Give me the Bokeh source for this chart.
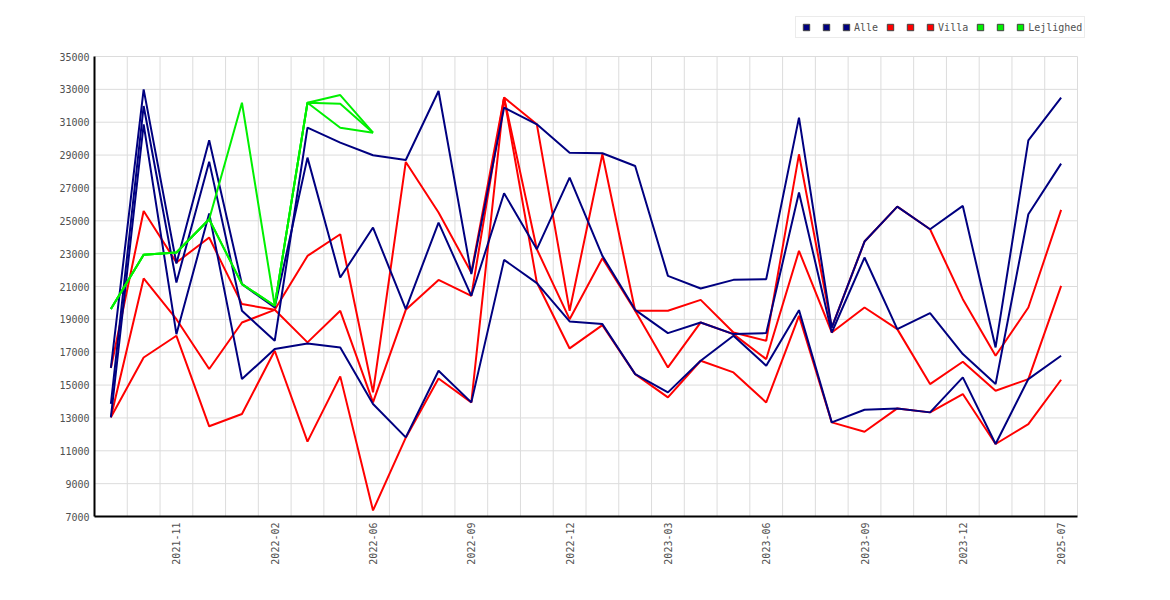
import math
from bokeh.plotting import figure
from bokeh.models import FixedTicker, Legend, LegendItem
from bokeh.embed import file_html
from bokeh.resources import INLINE

# ---- data -------------------------------------------------------------
months = ["2021-09", "2021-10", "2021-11", "2021-12", "2022-01", "2022-02",
          "2022-03", "2022-04", "2022-06", "2022-07", "2022-08", "2022-09",
          "2022-10", "2022-11", "2022-12", "2023-01", "2023-02", "2023-03",
          "2023-04", "2023-05", "2023-06", "2023-07", "2023-08", "2023-09",
          "2023-10", "2023-11", "2023-12", "2024-01", "2025-06", "2025-07"]
tick_every = 3
first_tick = 2

alle_1 = [16040, 33000, 22400, 29900, 21146, 19720, 28845, 21548, 24588, 19622,
          24892, 20433, 26676, 23270, 27627, 22865, 19581, 18162, 18811, 18102,
          18162, 26716, 18200, 22763, 18406, 19378, 16885, 15061, 25399, 28480]
alle_2 = [13851, 31986, 21243, 28600, 19520, 17696, 30669, 29757, 28987, 28703,
          32899, 21750, 31885, 30872, 29148, 29108, 28338, 21648, 20878, 21405,
          21446, 31277, 18500, 23736, 25865, 24487, 25906, 17290, 29899, 32493]
alle_3 = [13036, 30872, 18100, 25440, 15365, 17190, 17534, 17290, 13846, 11819,
          15872, 13946, 22622, 21203, 18872, 18710, 15669, 14554, 16480, 18000,
          16176, 19561, 12730, 13500, 13581, 13338, 15466, 11412, 15365, 16784]

villa_1 = [16040, 25600, 22460, 23980, 19930, 19580, 22860, 24180, 14560, 28580,
           25500, 21850, 32500, 30870, 19520, 29047, 19520, 19520, 20187, 18203,
           17697, 29047, 18500, 23736, 25865, 24487, 20230, 16784, 19723, 25662]
villa_2 = [13036, 21490, 19010, 15980, 18810, 19580, 17600, 19520, 13950, 19580,
           21400, 20430, 32500, 23270, 19010, 22723, 19520, 16075, 18811, 18100,
           16582, 23169, 18203, 19723, 18406, 15061, 16419, 14655, 15365, 21040]
villa_3 = [13036, 16680, 18000, 12490, 13240, 17090, 11560, 15530, 7370, 11800,
           15400, 13950, 32500, 21240, 17230, 18649, 15669, 14250, 16480, 15770,
           13946, 19216, 12730, 12162, 13581, 13338, 14453, 11412, 12628, 15324]

lejl_1 = [19626, 22930, 23067, 25097, 32186, 19827, 32186, 32653, 30364]
lejl_2 = [19626, 22930, 23067, 25097, 21146, 19827, 32186, 32130, 30364]
lejl_3 = [19626, 22930, 23067, 25097, 21146, 19827, 32186, 30667, 30364]

y_ticks = list(range(7000, 35001, 2000))

NAVY = "#000080"
RED = "#ff0000"
GREEN = "#00f000"
FONT = "DejaVu Sans Mono"
TXT = "#505050"
GRID = "#dcdcdc"

# ---- layout numbers ---------------------------------------------------
W, H = 1158, 588
LEFT, TOP, BOTTOM = 94, 16, 72
PLOT_RIGHT_PX = 1077        # where the category axis ends
EXTRA_RIGHT = 12            # room for the legend beyond the axis end
RIGHT = W - PLOT_RIGHT_PX - EXTRA_RIGHT
PLOT_TOP_PX = 56            # where the value axis ends (35000)
frame_h = H - TOP - BOTTOM
span = y_ticks[-1] - y_ticks[0]
val_per_px = span / (frame_h - (PLOT_TOP_PX - TOP))
y_top = y_ticks[-1] + (PLOT_TOP_PX - TOP) * val_per_px
x_lo, x_hi = -0.5, len(months) - 0.5
x_per_px = (x_hi - x_lo) / (PLOT_RIGHT_PX - LEFT)
x_top = x_hi + EXTRA_RIGHT * x_per_px

# ---- figure -----------------------------------------------------------
idx = list(range(len(months)))
p = figure(width=W, height=H,
           x_range=(x_lo, x_top), y_range=(y_ticks[0], y_top),
           output_backend="svg", toolbar_location=None,
           min_border_left=LEFT, min_border_right=RIGHT,
           min_border_top=TOP, min_border_bottom=BOTTOM)
p.outline_line_color = None
p.background_fill_color = "white"
p.border_fill_color = "white"

# axes
xt = idx[first_tick::tick_every]
p.xaxis.ticker = FixedTicker(ticks=xt)
p.xaxis.major_label_overrides = {i: months[i] for i in idx}
p.xaxis.major_label_orientation = math.pi / 2
p.xaxis.bounds = (x_lo, x_hi)
p.yaxis.ticker = FixedTicker(ticks=y_ticks)
p.yaxis.bounds = (y_ticks[0], y_ticks[-1])
for ax in (p.xaxis, p.yaxis):
    ax.axis_line_color = "black"
    ax.axis_line_width = 2
    ax.major_tick_in = 0
    ax.major_tick_out = 0
    ax.minor_tick_in = 0
    ax.minor_tick_out = 0
    ax.major_label_text_font = FONT
    ax.major_label_text_font_size = "10px"
    ax.major_label_text_color = TXT
p.xaxis.major_label_standoff = 6
p.yaxis.major_label_standoff = 5

# grids (drawn as bounded segments)
p.xgrid.grid_line_color = None
p.ygrid.grid_line_color = None
gx = [i + 0.5 for i in idx]
p.segment(x0=gx, y0=[y_ticks[0]] * len(gx), x1=gx, y1=[y_ticks[-1]] * len(gx),
          line_color=GRID, line_width=1)
p.segment(x0=[x_lo] * len(y_ticks), y0=y_ticks, x1=[x_hi] * len(y_ticks), y1=y_ticks,
          line_color=GRID, line_width=1)

# lines: villa, alle, lejlighed (drawing order)
for ser in (villa_1, villa_2, villa_3):
    p.line(idx, ser, line_color=RED, line_width=2)
for ser in (alle_1, alle_2, alle_3):
    p.line(idx, ser, line_color=NAVY, line_width=2)
for ser in (lejl_1, lejl_2, lejl_3):
    p.line(idx[:len(ser)], ser, line_color=GREEN, line_width=2)

# legend with square swatches (renderers hold no visible point)
labels = ["", "", "Alle", "", "", "Villa", "", "", "Lejlighed"]
colors = [NAVY] * 3 + [RED] * 3 + [GREEN] * 3
items = []
for lab, col in zip(labels, colors):
    r = p.scatter(x=[math.nan], y=[math.nan], marker="square", fill_color=col,
                  line_color="#404040", line_width=1)
    items.append(LegendItem(label=lab, renderers=[r]))
legend = Legend(items=items, orientation="horizontal",
                location=(701, frame_h - (38 - TOP)),
                glyph_width=16, glyph_height=16, label_standoff=0, spacing=4,
                padding=2, label_width=0, label_height=16,
                label_text_font=FONT, label_text_font_size="10px",
                label_text_color=TXT, border_line_color="#d8d8d8",
                border_line_width=1, background_fill_color="white",
                background_fill_alpha=1.0, margin=0)
p.add_layout(legend)

open("out.html", "w").write(file_html(p, INLINE))
